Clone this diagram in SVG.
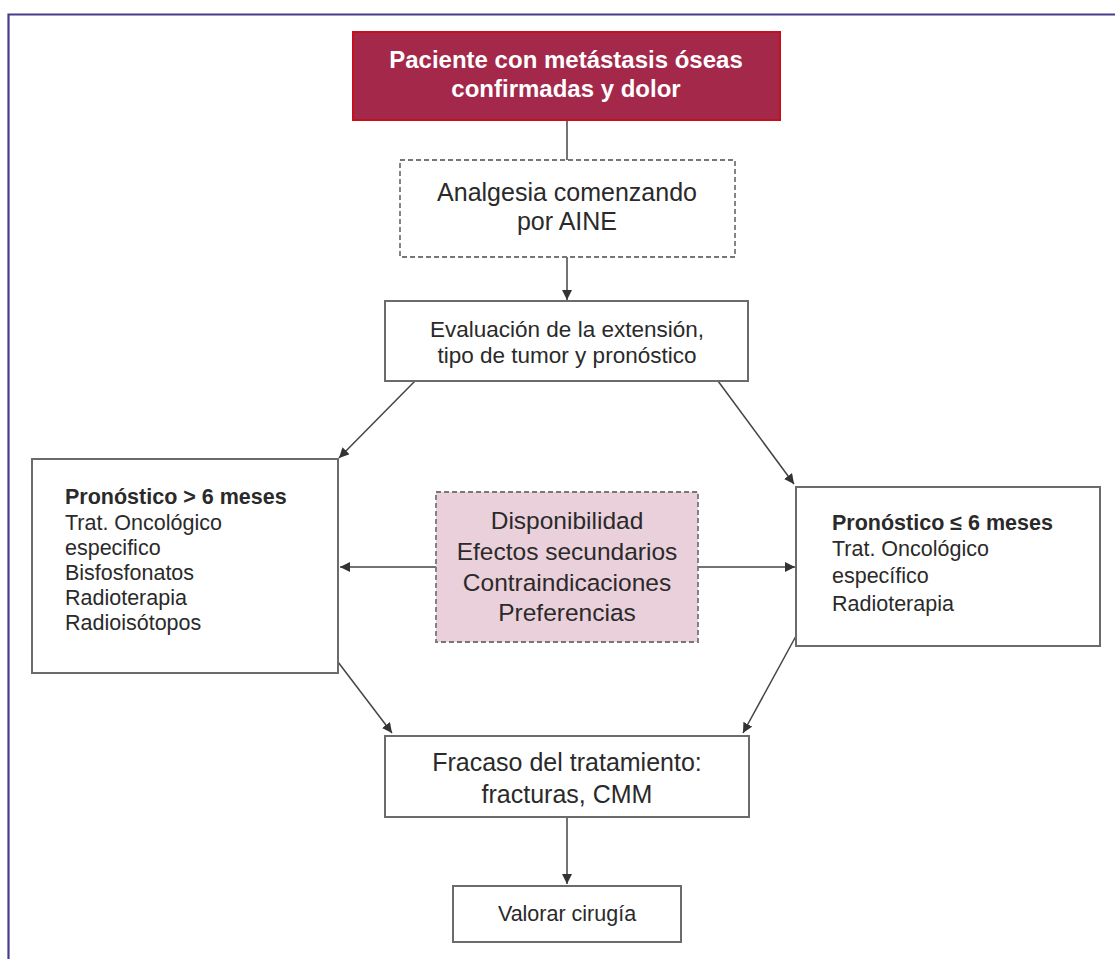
<svg xmlns="http://www.w3.org/2000/svg" width="1115" height="959" viewBox="0 0 1115 959">
<style>
text{font-family:"Liberation Sans",Arial,sans-serif;fill:#2a2a2a}
.box{fill:#fff;stroke:#6b6b6b;stroke-width:2}
.dash{stroke:#777;stroke-width:1.8;stroke-dasharray:5,3}
.c{text-anchor:middle}
.conn{stroke:#444;stroke-width:1.5;fill:none}
.side{font-size:21.5px}
</style>
<defs>
<marker id="ah" viewBox="0 0 10 10" refX="10" refY="5" markerWidth="10" markerHeight="10" markerUnits="userSpaceOnUse" orient="auto">
<path d="M0,0 L10,5 L0,10 z" fill="#333"/>
</marker>
</defs>
<rect width="1115" height="959" fill="#fff"/>
<path d="M8.5,959 V14.5 H1115" fill="none" stroke="#4b3a8c" stroke-width="2.2"/>

<g id="connectors">
<line class="conn" x1="567" y1="120" x2="567" y2="160"/>
<line class="conn" x1="567" y1="257" x2="567" y2="300" marker-end="url(#ah)"/>
<line class="conn" x1="415" y1="381" x2="339" y2="458" marker-end="url(#ah)"/>
<line class="conn" x1="718" y1="381" x2="794" y2="484" marker-end="url(#ah)"/>
<line class="conn" x1="436" y1="567" x2="340" y2="567" marker-end="url(#ah)"/>
<line class="conn" x1="698" y1="567" x2="795" y2="567" marker-end="url(#ah)"/>
<line class="conn" x1="338" y1="662" x2="392" y2="733" marker-end="url(#ah)"/>
<line class="conn" x1="796" y1="636" x2="743" y2="733" marker-end="url(#ah)"/>
<line class="conn" x1="567" y1="817" x2="567" y2="884" marker-end="url(#ah)"/>
</g>

<g id="n-paciente">
<rect x="353" y="32" width="427" height="88" fill="#a3284a" stroke="#c4101c" stroke-width="2"/>
<text class="c" x="566" y="68" font-size="24" font-weight="bold" style="fill:#fff">Paciente con metástasis óseas</text>
<text class="c" x="566" y="97" font-size="24" font-weight="bold" style="fill:#fff">confirmadas y dolor</text>
</g>

<g id="n-analgesia">
<rect x="400" y="160" width="335" height="97" fill="#fff" class="dash"/>
<text class="c" x="567" y="201" font-size="25">Analgesia comenzando</text>
<text class="c" x="567" y="230" font-size="25">por AINE</text>
</g>

<g id="n-evaluacion">
<rect class="box" x="385" y="301" width="363" height="80"/>
<text class="c" x="567" y="337" font-size="22.5">Evaluación de la extensión,</text>
<text class="c" x="567" y="363" font-size="22.5">tipo de tumor y pronóstico</text>
</g>

<g id="n-mayor6">
<rect class="box" x="32" y="459" width="306" height="214"/>
<text class="side" x="65" y="504" font-weight="bold">Pronóstico &gt; 6 meses</text>
<text class="side" x="65" y="530">Trat. Oncológico</text>
<text class="side" x="65" y="555">especifico</text>
<text class="side" x="65" y="580">Bisfosfonatos</text>
<text class="side" x="65" y="605">Radioterapia</text>
<text class="side" x="65" y="630">Radioisótopos</text>
</g>

<g id="n-factores">
<rect x="436" y="492" width="262" height="150" fill="#ead0da" class="dash"/>
<text class="c" x="567" y="529" font-size="24.5">Disponibilidad</text>
<text class="c" x="567" y="560" font-size="24.5">Efectos secundarios</text>
<text class="c" x="567" y="591" font-size="24.5">Contraindicaciones</text>
<text class="c" x="567" y="621" font-size="24.5">Preferencias</text>
</g>

<g id="n-menor6">
<rect class="box" x="796" y="487" width="304" height="159"/>
<text class="side" x="832" y="530" font-weight="bold">Pronóstico ≤ 6 meses</text>
<text class="side" x="832" y="556">Trat. Oncológico</text>
<text class="side" x="832" y="583">específico</text>
<text class="side" x="832" y="611">Radioterapia</text>
</g>

<g id="n-fracaso">
<rect class="box" x="385" y="736" width="364" height="81"/>
<text class="c" x="567" y="771" font-size="25">Fracaso del tratamiento:</text>
<text class="c" x="567" y="803" font-size="25">fracturas, CMM</text>
</g>

<g id="n-cirugia">
<rect class="box" x="453" y="886" width="228" height="56"/>
<text class="c" x="567" y="921" font-size="21.5">Valorar cirugía</text>
</g>
</svg>
